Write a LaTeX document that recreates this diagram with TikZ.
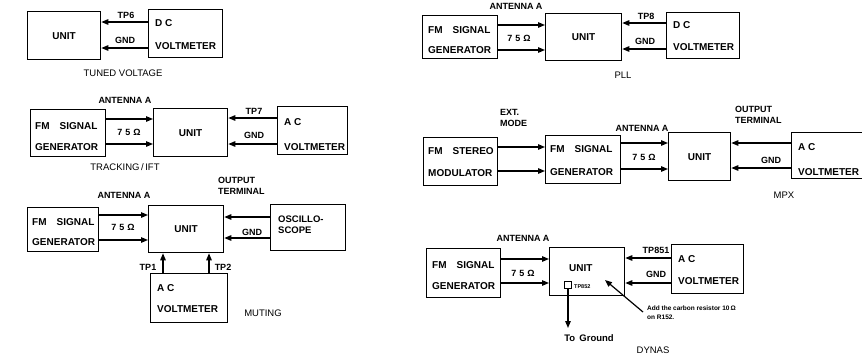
\documentclass[tikz,border=0pt]{standalone}
\usepackage{fontspec}
\setmainfont{Liberation Sans}
\usetikzlibrary{arrows.meta}
\newcommand\bx[6]{\node[box,minimum width=#4pt,minimum height=#5pt] (#1) at (#2,#3) {#6};}
\begin{document}
\begin{tikzpicture}[x=1pt,y=-1pt,
  box/.style={draw,line width=1.3pt,inner sep=0,anchor=north west,font=\fontsize{10}{10}\selectfont\bfseries},
  arr/.style={line width=1.2pt,-{Triangle[length=7pt,width=5.5pt]}},
  tx/.style={font=\fontsize{10}{10}\selectfont\bfseries,inner sep=0,anchor=west},
  lb/.style={font=\fontsize{9}{10}\selectfont\bfseries,inner sep=0},
  two/.style={font=\fontsize{9}{11}\selectfont\bfseries,inner sep=0,anchor=north west,align=left},
  captxt/.style={font=\fontsize{9.5}{10}\selectfont,inner sep=0}]
\useasboundingbox (0,0) rectangle (862,357);
\clip (0,0) rectangle (862,357);
% ---------- TUNED VOLTAGE ----------
\bx{uA}{27}{11}{73}{48}{UNIT}
\bx{dcA}{148}{9}{74}{48}{}
\node[tx] (dcA1) at (155,23) {D C};
\node[tx] (dcA2) at (155,46) {VOLTMETER};
\draw[arr] (dcA.west |- 0,22) -- (uA.east |- 0,22);
\draw[arr] (dcA.west |- 0,48) -- (uA.east |- 0,48);
\node[lb] (tpA) at (126,15) {TP6};
\node[lb] (gA) at (125,40) {GND};
\node[captxt] (capA) at (123,73) {TUNED VOLTAGE};
% ---------- TRACKING / IFT ----------
\node[lb] (antB) at (125,100) {ANTENNA A};
\bx{fmB}{30}{109}{75}{47}{}
\node[tx] (fmB1) at (35,126) {FM\hspace{1em}SIGNAL};
\node[tx] (fmB2) at (35,147) {GENERATOR};
\bx{uB}{153}{108}{74}{48}{UNIT}
\bx{acB}{277}{106}{70}{48}{}
\node[tx] (acB1) at (284,122) {A C};
\node[tx] (acB2) at (284,147) {VOLTMETER};
\draw[arr] (fmB.east |- 0,119) -- (uB.west |- 0,119);
\draw[arr] (fmB.east |- 0,144) -- (uB.west |- 0,144);
\draw[arr] (acB.west |- 0,118) -- (uB.east |- 0,118);
\draw[arr] (acB.west |- 0,144) -- (uB.east |- 0,144);
\node[lb] (oB) at (129,132) {7\,\,5\,\,Ω};
\node[lb] (tpB) at (254,111) {TP7};
\node[lb] (gB) at (254,135) {GND};
\node[captxt] (capB) at (125,167) {TRACKING\,/\,IFT};
% ---------- MUTING ----------
\node[lb] (antC) at (124,195) {ANTENNA A};
\node[two] (outC) at (218,177) {OUTPUT\\TERMINAL};
\bx{fmC}{27}{207}{71}{44}{}
\node[tx] (fmC1) at (32,222) {FM\hspace{1em}SIGNAL};
\node[tx] (fmC2) at (32,242) {GENERATOR};
\bx{uC}{148}{205}{75}{47}{UNIT}
\bx{osC}{270}{204}{75}{46}{}
\node[two,font=\fontsize{9.5}{11}\selectfont\bfseries] (osC1) at (278,216) {OSCILLO-\\SCOPE};
\draw[arr] (fmC.east |- 0,215) -- (uC.west |- 0,215);
\draw[arr] (fmC.east |- 0,240) -- (uC.west |- 0,240);
\draw[arr] (osC.west |- 0,217) -- (uC.east |- 0,217);
\draw[arr] (osC.west |- 0,238) -- (uC.east |- 0,238);
\node[lb] (oC) at (123,227) {7\,\,5\,\,Ω};
\node[lb] (gC) at (252,232) {GND};
\bx{acC}{150}{273}{77}{49}{}
\node[tx] (acC1) at (157,288) {A C};
\node[tx] (acC2) at (157,309) {VOLTMETER};
\draw[arr] (acC.north -| 163,0) -- (uC.south -| 163,0);
\draw[arr] (acC.north -| 209,0) -- (uC.south -| 209,0);
\node[lb] (tp1) at (148,267) {TP1};
\node[lb] (tp2) at (223,267) {TP2};
\node[captxt] (capC) at (263,313) {MUTING};
% ---------- PLL ----------
\node[lb] (antD) at (516,6) {ANTENNA A};
\bx{fmD}{422}{15}{75}{43}{}
\node[tx] (fmD1) at (428,30) {FM\hspace{1em}SIGNAL};
\node[tx] (fmD2) at (428,50) {GENERATOR};
\bx{uD}{545}{13}{76}{47}{UNIT}
\bx{dcD}{666}{12}{73}{46}{}
\node[tx] (dcD1) at (673,25) {D C};
\node[tx] (dcD2) at (673,47) {VOLTMETER};
\draw[arr] (fmD.east |- 0,25) -- (uD.west |- 0,25);
\draw[arr] (fmD.east |- 0,50) -- (uD.west |- 0,50);
\draw[arr] (dcD.west |- 0,23) -- (uD.east |- 0,23);
\draw[arr] (dcD.west |- 0,49) -- (uD.east |- 0,49);
\node[lb] (oD) at (519,38) {7\,\,5\,\,Ω};
\node[lb] (tpD) at (646,16) {TP8};
\node[lb] (gD) at (645,41) {GND};
\node[captxt] (capD) at (623,75) {PLL};
% ---------- MPX ----------
\node[two] (extE) at (500,109) {EXT.\\MODE};
\node[lb] (antE) at (642,128) {ANTENNA A};
\node[two] (outE) at (735,106) {OUTPUT\\TERMINAL};
\bx{stE}{423}{137}{74}{48}{}
\node[tx] (stE1) at (428,151) {FM\hspace{1em}STEREO};
\node[tx] (stE2) at (428,173) {MODULATOR};
\bx{fmE}{545}{135}{75}{48}{}
\node[tx] (fmE1) at (550,149) {FM\hspace{1em}SIGNAL};
\node[tx] (fmE2) at (550,172) {GENERATOR};
\bx{uE}{668}{132}{62}{48}{UNIT}
\bx{acE}{791}{132}{90}{46}{}
\node[tx] (acE1) at (798,147) {A C};
\node[tx] (acE2) at (798,172) {VOLTMETER};
\draw[arr] (stE.east |- 0,147) -- (fmE.west |- 0,147);
\draw[arr] (stE.east |- 0,171) -- (fmE.west |- 0,171);
\draw[arr] (fmE.east |- 0,143) -- (uE.west |- 0,143);
\draw[arr] (fmE.east |- 0,169) -- (uE.west |- 0,169);
\draw[arr] (acE.west |- 0,143) -- (uE.east |- 0,143);
\draw[arr] (acE.west |- 0,168) -- (uE.east |- 0,168);
\node[lb] (oE) at (644,157) {7\,\,5\,\,Ω};
\node[lb] (gE) at (771,160) {GND};
\node[captxt] (capE) at (784,195) {MPX};
% ---------- DYNAS ----------
\node[lb] (antF) at (523,238) {ANTENNA A};
\bx{fmF}{426}{248}{74}{49}{}
\node[tx] (fmF1) at (432,265) {FM\hspace{1em}SIGNAL};
\node[tx] (fmF2) at (432,286) {GENERATOR};
\bx{uF}{549}{247}{75}{48}{}
\node[tx] (uF1) at (569,268) {UNIT};
\bx{acF}{671}{244}{72}{49}{}
\node[tx] (acF1) at (678,259) {A C};
\node[tx] (acF2) at (678,281) {VOLTMETER};
\draw[arr] (fmF.east |- 0,259) -- (uF.west |- 0,259);
\draw[arr] (fmF.east |- 0,283) -- (uF.west |- 0,283);
\draw[arr] (acF.west |- 0,258) -- (uF.east |- 0,258);
\draw[arr] (acF.west |- 0,283) -- (uF.east |- 0,283);
\node[lb] (oF) at (523,273) {7\,\,5\,\,Ω};
\node[lb] (tpF) at (656,250) {TP851};
\node[lb] (gF) at (656,274) {GND};
\node[draw,line width=1pt,minimum size=6.5pt,inner sep=0] (sqF) at (568,285) {};
\node[font=\fontsize{5.5}{6}\selectfont\bfseries,inner sep=0,anchor=west] (tpF2) at (574,287) {TP852};
\coordinate (gtip) at (568,328);
\draw[arr] (sqF.south) -- (gtip);
\node[font=\fontsize{9.5}{10}\selectfont\bfseries,inner sep=0] (tgF) at (589,338) {To\, Ground};
\node[font=\fontsize{6.5}{9}\selectfont\bfseries,inner sep=0,anchor=north west,align=left] (noteF) at (647,306) {Add the carbon resistor 10\,Ω\\on R152.};
\coordinate (ntip) at (605,280);
\draw[arr] ([shift={(-4,6)}]noteF.north west) -- (ntip);
\node[captxt] (capF) at (653,350) {DYNAS};
\end{tikzpicture}
\end{document}
